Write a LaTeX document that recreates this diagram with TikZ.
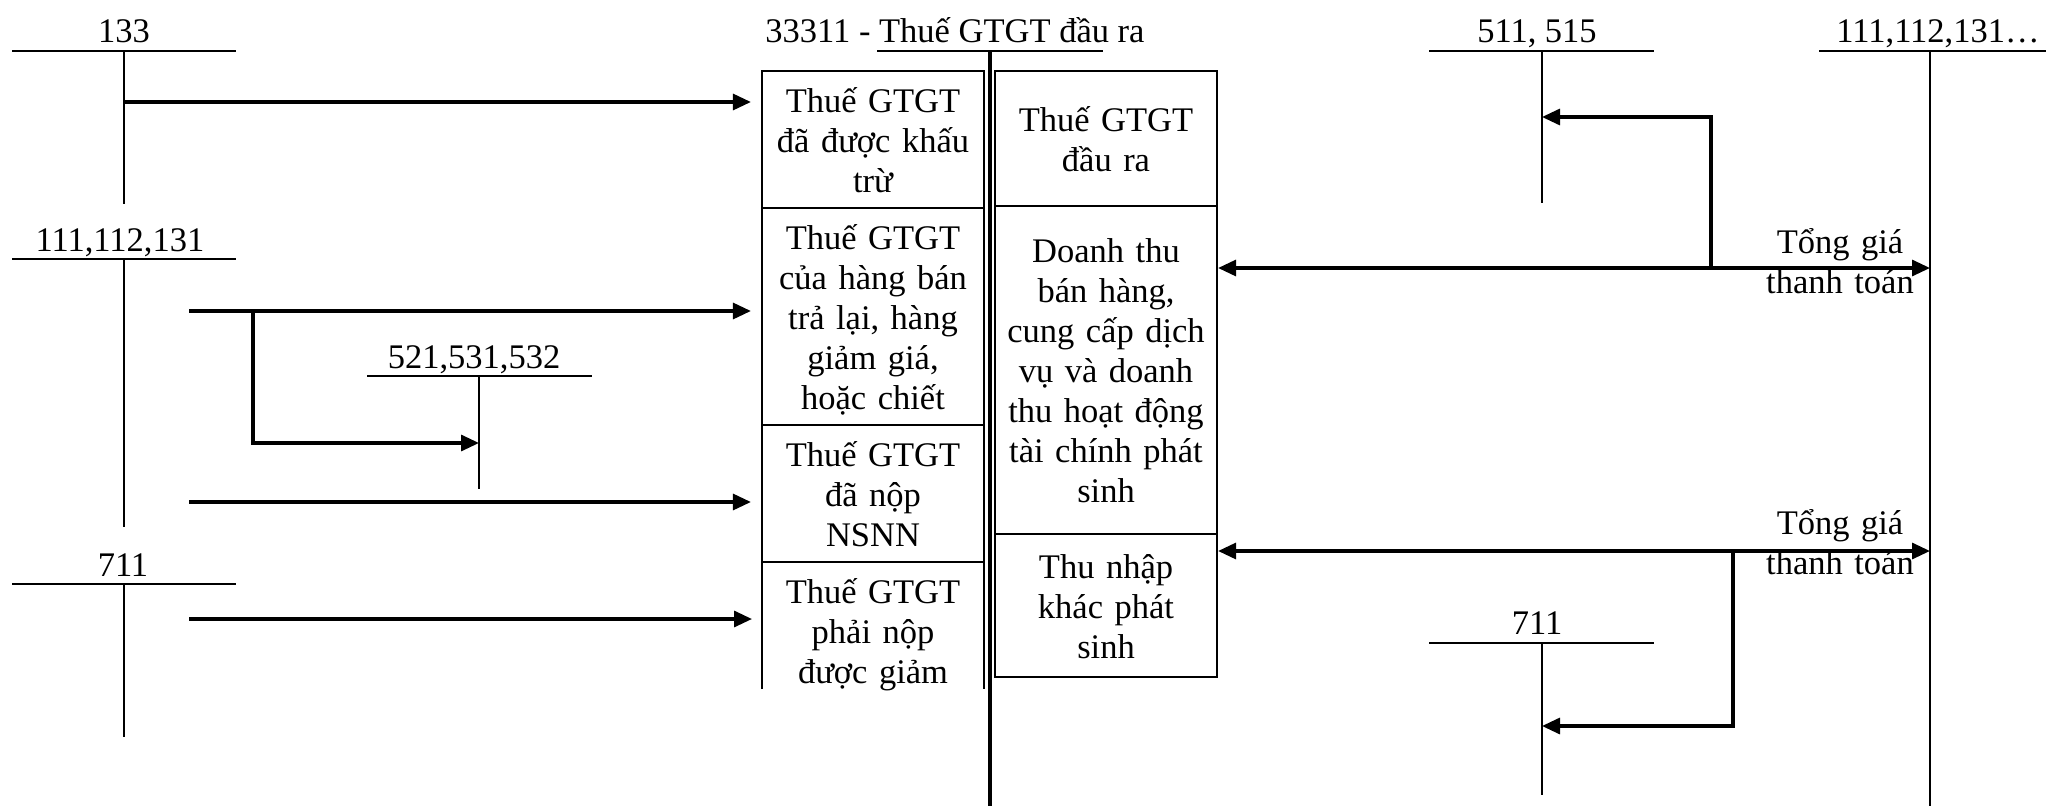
\documentclass[tikz,border=0pt]{standalone}
\usepackage{fontspec}
\setmainfont{Liberation Serif}
\usetikzlibrary{arrows.meta}
\newcommand{\topst}{\rule{0pt}{34pt}}
\newcommand{\botst}{\rule[-8.5pt]{0pt}{8.5pt}}
\begin{document}
\begin{tikzpicture}[x=1pt,y=-1pt,
  lbl/.style={font=\fontsize{34.5}{40}\selectfont, inner sep=0pt, anchor=base},
  boxtxt/.style={font=\fontsize{34.5}{40}\selectfont, align=center, inner sep=0pt,
    text width=222pt, execute at begin node=\topst, execute at end node=\botst},
  box/.style={boxtxt, draw, line width=2.2pt, minimum width=222pt},
  acct/.style={line width=1.9pt},
  arr/.style={line width=3.2pt, -{Triangle[length=18pt,width=16pt]}},
  darr/.style={line width=3.2pt, {Triangle[length=18pt,width=16pt]}-{Triangle[length=18pt,width=16pt]}},
]
\useasboundingbox (0,0) rectangle (2046,806);

% ---- central account 33311 ----
\node[lbl] (title) at (955,42) {33311 - Thuế GTGT đầu ra};
\coordinate (m0) at (990,51);
\coordinate (m1) at (990,806);
\draw[acct] (877,51) -- (1103,51);
\draw[line width=4.5pt] (m0) -- (m1);

% left column boxes
\node[box, minimum height=137pt] (L1) at (873,139.5) {Thuế GTGT\\đã được khấu\\trừ};
\node[box, minimum height=217pt] (L2) at (873,316.5) {Thuế GTGT\\của hàng bán\\trả lại, hàng\\giảm giá,\\hoặc chiết};
\node[box, minimum height=137pt] (L3) at (873,493.5) {Thuế GTGT\\đã nộp\\NSNN};
\node[boxtxt] (L4) at (873,630.5) {Thuế GTGT\\phải nộp\\được giảm};
\coordinate (L4w) at (762,625);
\draw[line width=2.2pt] (762,689) -- (762,562) -- (984,562) -- (984,689);

% right column boxes
\node[box, minimum height=135pt] (R1) at (1106,138.5) {Thuế GTGT\\đầu ra};
\node[box, minimum height=328pt] (R2) at (1106,370) {Doanh thu\\bán hàng,\\cung cấp dịch\\vụ và doanh\\thu hoạt động\\tài chính phát\\sinh};
\node[box, minimum height=143pt] (R3) at (1106,605.5) {Thu nhập\\khác phát\\sinh};

% ---- left T accounts ----
\node[lbl] (t133) at (124,42) {133};
\draw[acct] (12,51) -- (236,51);
\draw[acct] (124,51) -- (124,204);

\node[lbl] (t111l) at (120,251) {111,112,131};
\draw[acct] (12,259) -- (236,259);
\draw[acct] (124,259) -- (124,527);

\node[lbl] (t521) at (474,368) {521,531,532};
\draw[acct] (367,376) -- (592,376);
\draw[acct] (479,376) -- (479,489);

\node[lbl] (t711l) at (123,576) {711};
\draw[acct] (12,584) -- (236,584);
\draw[acct] (124,584) -- (124,737);

% left arrows
\coordinate (s1) at (124,102);
\coordinate (s2) at (189,311);
\coordinate (s3) at (189,502);
\coordinate (s4) at (189,619);
\coordinate (b2) at (253,311);
\coordinate (e521) at (479,443);
\draw[arr, shorten >=10pt] (s1) -- (s1 -| L1.west);
\draw[arr, shorten >=10pt] (s2) -- (s2 -| L2.west);
\draw[arr] (b2) |- (e521);
\draw[arr, shorten >=10pt] (s3) -- (s3 -| L3.west);
\draw[arr, shorten >=10pt] (s4) -- (s4 -| L4w);

% ---- right T accounts ----
\node[lbl] (t511) at (1537,42) {511, 515};
\draw[acct] (1429,51) -- (1654,51);
\draw[acct] (1542,51) -- (1542,203);

\node[lbl] (t111r) at (1938,42) {111,112,131…};
\draw[acct] (1819,51) -- (2046,51);
\draw[acct] (1930,51) -- (1930,806);

\node[lbl] (t711r) at (1537,634) {711};
\draw[acct] (1429,643) -- (1654,643);
\draw[acct] (1542,643) -- (1542,795);

% right arrows
\coordinate (d1) at (1930,268);
\coordinate (d2) at (1930,551);
\coordinate (b511) at (1711,268);
\coordinate (e511) at (1542,117);
\coordinate (b711) at (1733,551);
\coordinate (e711) at (1542,726);
\draw[darr] (R2.east |- d1) -- (d1);
\draw[arr] (b511) |- (e511);
\draw[darr] (R3.east |- d2) -- (d2);
\draw[arr] (b711) |- (e711);

\node[boxtxt, text width=150pt] (tg1) at (1840,260.5) {Tổng giá\\thanh toán};
\node[boxtxt, text width=150pt] (tg2) at (1840,542) {Tổng giá\\thanh toán};
\end{tikzpicture}
\end{document}
